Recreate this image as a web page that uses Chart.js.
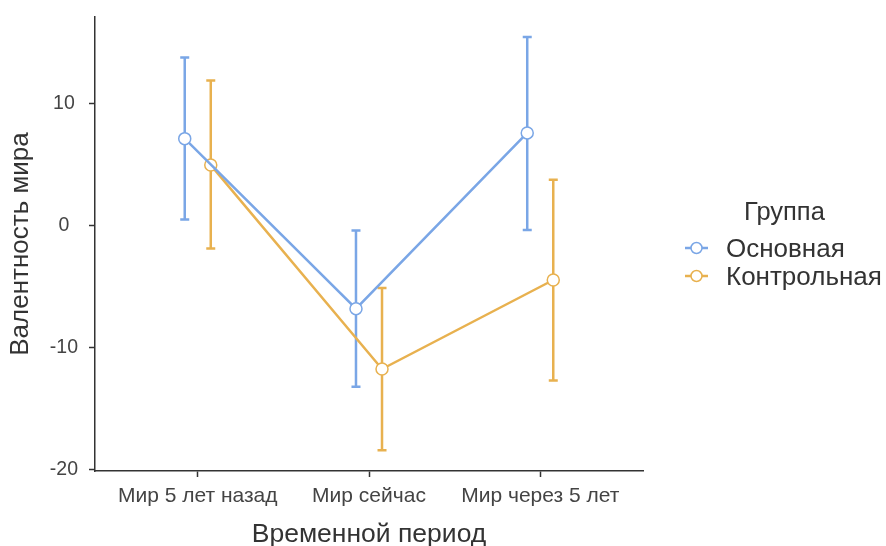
<!DOCTYPE html>
<html>
<head>
<meta charset="utf-8">
<script src="https://cdn.jsdelivr.net/npm/chart.js@4.4.1/dist/chart.umd.min.js"></script>
<style>
  body { margin: 0; background: #fff; }
  #wrap { position: relative; width: 886px; height: 546px; font-family: "Liberation Sans", Arial, sans-serif; }
  #legend { position: absolute; left: 685px; top: 193px; color: #333; }
  #legend .title { font-size: 25.5px; margin-left: 59px; height: 41px; line-height: 36px; }
  #legend .item { display: flex; align-items: center; height: 28px; font-size: 26px; }
  #legend svg { margin-right: 18px; }
</style>
</head>
<body>
<div id="wrap">
  <canvas id="chart" width="886" height="546"></canvas>
  <div id="legend"></div>
</div>
<script>
// ---- data ----
const categories = ["Мир 5 лет назад", "Мир сейчас", "Мир через 5 лет"];
const groups = ["Основная", "Контрольная"];

const mainMean = [7.15, -6.8, 7.62];
const mainLow = [0.52, -13.2, -0.35];
const mainHigh = [13.8, -0.39, 15.49];

const ctrlMean = [4.98, -11.75, -4.45];
const ctrlLow = [-1.86, -18.42, -12.7];
const ctrlHigh = [11.91, -5.1, 3.77];

const yTicks = [-20, -10, 0, 10];

// ---- styling ----
const COLOURS = ["#7aa6e6", "#e8b14f"];
const DODGE = 0.076;
const TEXT = "#444";
const AXIS = "#333";
const FONT = "'Liberation Sans', Arial, sans-serif";

function series(mean, low, high, offset) {
  return {
    pts: mean.map((v, i) => ({ x: i + 1 + offset, y: v })),
    low: low.map((v, i) => ({ x: i + 1 + offset, y: v })),
    high: high.map((v, i) => ({ x: i + 1 + offset, y: v })),
  };
}

const sMain = series(mainMean, mainLow, mainHigh, -DODGE);
const sCtrl = series(ctrlMean, ctrlLow, ctrlHigh, DODGE);

function dataset(label, s, colour) {
  return {
    label,
    data: s.pts,
    errLow: s.low,
    errHigh: s.high,
    borderColor: colour,
    borderWidth: 2.5,
    pointRadius: 6,
    pointBorderWidth: 1.5,
    pointBackgroundColor: "#fff",
    pointBorderColor: colour,
    tension: 0,
  };
}

// Custom plugin: error bars behind the points
const errorBarPlugin = {
  id: "errorBars",
  beforeDatasetsDraw(chart) {
    const { ctx, scales: { x, y } } = chart;
    ctx.save();
    chart.data.datasets.forEach((ds) => {
      ctx.strokeStyle = ds.borderColor;
      ctx.lineWidth = 2.5;
      ds.errLow.forEach((lo, i) => {
        const hi = ds.errHigh[i];
        const px = x.getPixelForValue(lo.x);
        const y1 = y.getPixelForValue(lo.y);
        const y2 = y.getPixelForValue(hi.y);
        ctx.beginPath();
        ctx.moveTo(px, y1);
        ctx.lineTo(px, y2);
        ctx.moveTo(px - 4.5, y1);
        ctx.lineTo(px + 4.5, y1);
        ctx.moveTo(px - 4.5, y2);
        ctx.lineTo(px + 4.5, y2);
        ctx.stroke();
      });
    });
    ctx.restore();
  },
};

new Chart(document.getElementById("chart"), {
  type: "line",
  data: {
    datasets: [dataset(groups[0], sMain, COLOURS[0]), dataset(groups[1], sCtrl, COLOURS[1])],
  },
  options: {
    responsive: false,
    animation: false,
    events: [],
    layout: { padding: { top: 17, right: 243, bottom: 0, left: 0 } },
    plugins: { legend: { display: false }, tooltip: { enabled: false } },
    scales: {
      x: {
        type: "linear",
        min: 0.4,
        max: 3.6,
        afterBuildTicks: (s) => { s.ticks = categories.map((c, i) => ({ value: i + 1 })); },
        afterFit: (s) => { s.height = 75; },
        ticks: {
          callback: (v) => categories[v - 1],
          color: TEXT,
          font: { family: FONT, size: 21 },
          padding: 7,
          maxRotation: 0,
          autoSkip: false,
        },
        grid: { drawOnChartArea: false, drawTicks: true, tickLength: 6, color: AXIS, tickWidth: 1.5 },
        border: { display: true, color: AXIS, width: 1.5 },
        title: {
          display: true,
          text: "Временной период",
          color: "#333",
          font: { family: FONT, size: 26.5, lineHeight: 0.85 },
          padding: { top: 0, bottom: 0 },
        },
      },
      y: {
        min: -20.12,
        max: 17.13,
        afterBuildTicks: (s) => { s.ticks = yTicks.map((v) => ({ value: v })); },
        afterFit: (s) => { s.width = 95; s.paddingTop = 0; s.paddingBottom = 0; },
        ticks: {
          callback: (v) => String(v),
          color: TEXT,
          font: { family: FONT, size: 19.5 },
          padding: 11,
          crossAlign: "center",
        },
        grid: { drawOnChartArea: false, drawTicks: true, tickLength: 6, color: AXIS, tickWidth: 1.5 },
        border: { display: true, color: AXIS, width: 1.5 },
        title: {
          display: true,
          text: "Валентность мира",
          color: "#333",
          font: { family: FONT, size: 26, lineHeight: 1 },
          padding: { top: 8, bottom: 0 },
        },
      },
    },
  },
  plugins: [errorBarPlugin],
});

// ---- HTML legend ----
const legendEl = document.getElementById("legend");
let html = '<div class="title">Группа</div>';
groups.forEach((g, i) => {
  html += '<div class="item"><svg width="23" height="14"><line x1="0" y1="7" x2="23" y2="7" stroke="' +
    COLOURS[i] + '" stroke-width="2.5"/><circle cx="11.5" cy="7" r="5.5" fill="#fff" stroke="' +
    COLOURS[i] + '" stroke-width="1.5"/></svg>' + g + "</div>";
});
legendEl.innerHTML = html;
</script>
</body>
</html>
